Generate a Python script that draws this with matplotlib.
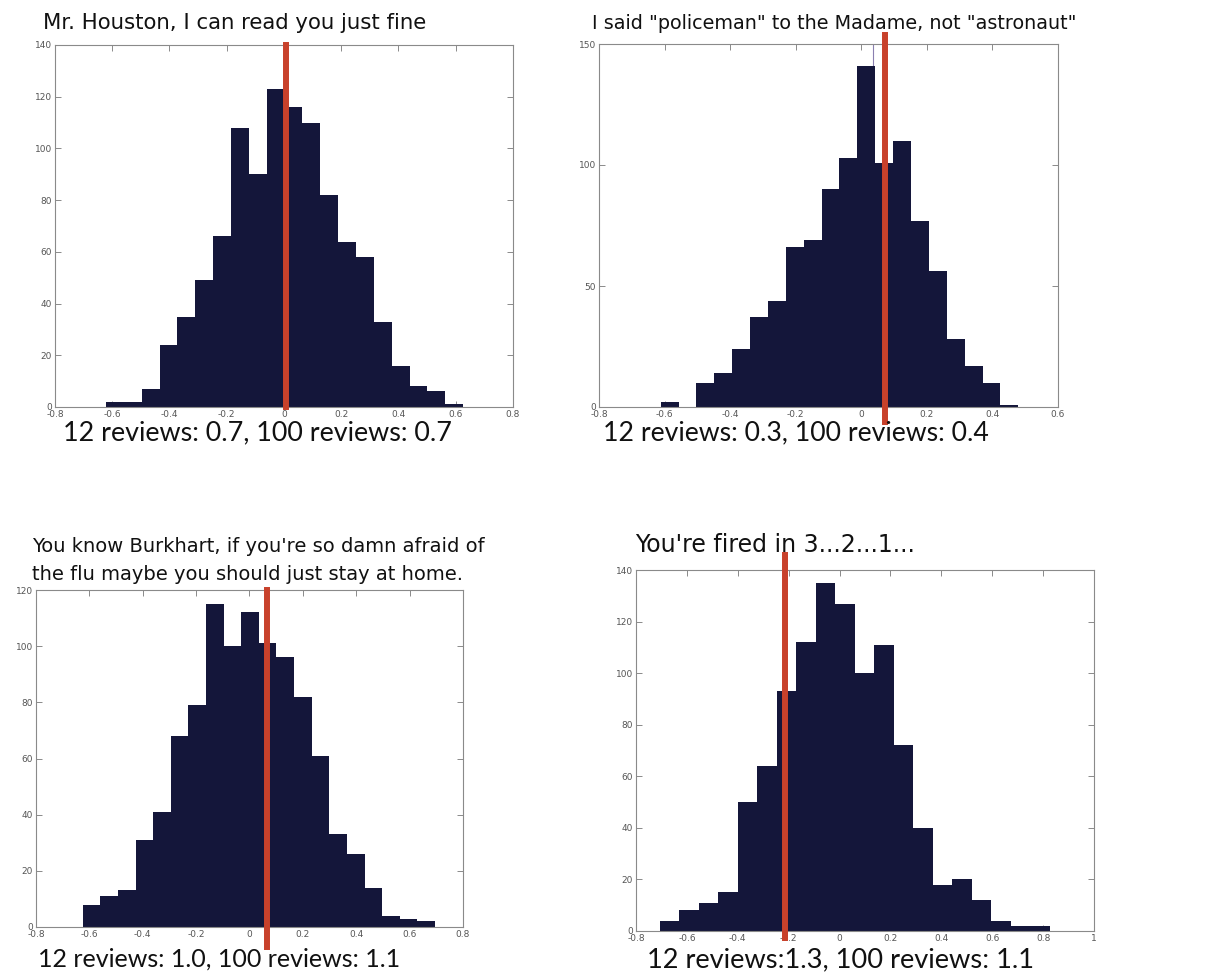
import numpy as np
import matplotlib.pyplot as plt

# -----------------------------
# DATA
# -----------------------------
titles = [
    ["Mr. Houston, I can read you just fine"],
    ['I said "policeman" to the Madame, not "astronaut"'],
    ["You know Burkhart, if you're so damn afraid of",
     "the flu maybe you should just stay at home."],
    ["You're fired in 3...2...1..."],
]
captions = [
    "12 reviews: 0.7, 100 reviews: 0.7",
    "12 reviews: 0.3, 100 reviews: 0.4",
    "12 reviews: 1.0, 100 reviews: 1.1",
    "12 reviews:1.3, 100 reviews: 1.1",
]

# histogram counts (20 bins each) and bin range
counts_houston = [2, 2, 7, 24, 35, 49, 66, 108, 90, 123,
                  116, 110, 82, 64, 58, 33, 16, 8, 6, 1]
range_houston = (-0.622, 0.626)

counts_policeman = [2, 0, 10, 14, 24, 37, 44, 66, 69, 90,
                    103, 141, 101, 110, 77, 56, 28, 17, 10, 1]
range_policeman = (-0.612, 0.479)

counts_burkhart = [8, 11, 13, 31, 41, 68, 79, 115, 100, 112,
                   101, 96, 82, 61, 33, 26, 14, 4, 3, 2]
range_burkhart = (-0.625, 0.695)

counts_fired = [4, 8, 11, 15, 50, 64, 93, 112, 135, 127,
                100, 111, 72, 40, 18, 20, 12, 4, 2, 2]
range_fired = (-0.706, 0.827)

# red marker positions
marker_x = [0.006, 0.072, 0.064, -0.216]
thin_line_x = 0.036  # faint line in the second panel

x_limits = [(-0.8, 0.8), (-0.8, 0.6), (-0.8, 0.8), (-0.8, 1.0)]
y_max = [140, 150, 120, 140]
y_step = [20, 50, 20, 20]

counts_all = [counts_houston, counts_policeman, counts_burkhart, counts_fired]
ranges_all = [range_houston, range_policeman, range_burkhart, range_fired]

# -----------------------------
# LAYOUT (pixel boxes: left, right, top, bottom)
# -----------------------------
W, H = 1224, 974
boxes = [(55, 513, 45, 407), (599, 1058, 44, 407),
         (36, 463, 590, 927), (636, 1094, 570, 931)]
marker_span = [(0.0, 1.0), (-0.041, 1.025), (-0.059, 1.0), (-0.02, 1.042)]
title_pos = [(43, [29]), (592, [29]), (32, [552, 580]), (635, [552])]
title_size = [15.3, 13.8, 14, 17]
caption_pos = [(63, 440), (603, 440), (38, 967), (647, 967)]
caption_size = [19.4, 19.2, 18, 19.6]

navy = "#14163a"
red = "#c8412b"

fig = plt.figure(figsize=(W / 100, H / 100), dpi=100)


def fmt(v):
    return "0" if abs(v) < 1e-9 else "%g" % v


for i in range(4):
    l, r, t, b = boxes[i]
    ax = fig.add_axes([l / W, 1 - b / H, (r - l) / W, (b - t) / H])

    edges = np.linspace(ranges_all[i][0], ranges_all[i][1], len(counts_all[i]) + 1)
    ax.stairs(counts_all[i], edges, fill=True, color=navy, lw=0, zorder=2)

    if i == 1:
        ax.axvline(thin_line_x, color="#8a7fb0", lw=0.8, zorder=1)

    ax.axvline(marker_x[i], ymin=marker_span[i][0], ymax=marker_span[i][1],
               color=red, lw=4.3, clip_on=False, zorder=3)

    ax.set_xlim(*x_limits[i])
    ax.set_ylim(0, y_max[i])
    xt = np.arange(x_limits[i][0], x_limits[i][1] + 0.001, 0.2)
    yt = np.arange(0, y_max[i] + 1, y_step[i])
    ax.set_xticks(xt)
    ax.set_xticklabels([fmt(v) for v in xt])
    ax.set_yticks(yt)
    ax.set_yticklabels([fmt(v) for v in yt])
    ax.tick_params(direction="in", top=True, right=True, length=4, width=0.6,
                   color="#777777", labelsize=6.5, labelcolor="#555555", pad=2)
    for s in ax.spines.values():
        s.set_color("#8a8a8a")
        s.set_linewidth(0.8)

    # title lines
    tx, baselines = title_pos[i]
    for line, by in zip(titles[i], baselines):
        fig.text(tx / W, 1 - by / H, line, fontsize=title_size[i],
                 family="DejaVu Sans", va="baseline", ha="left", color="#111111")

    cx, cy = caption_pos[i]
    fig.text(cx / W, 1 - cy / H, captions[i], fontsize=caption_size[i],
             family="Lato", va="baseline", ha="left", color="#111111", zorder=5)

fig.savefig("out.png", dpi=100)
